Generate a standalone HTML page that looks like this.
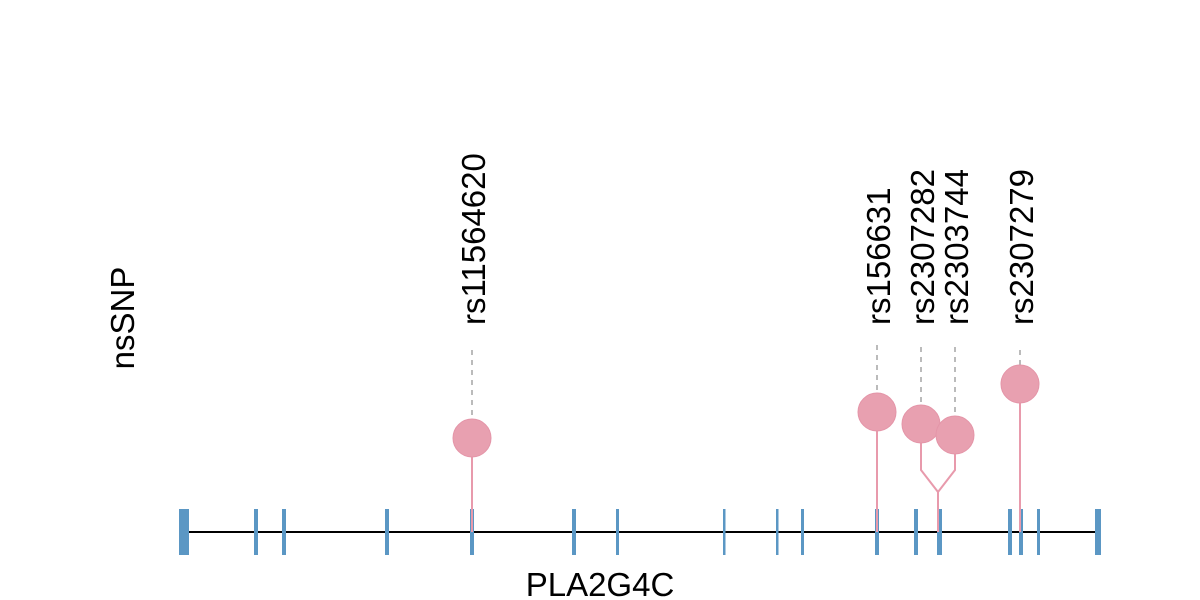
<!DOCTYPE html>
<html><head><style>body{margin:0;background:#fff}svg{display:block}text{font-family:"Liberation Sans",Arial,sans-serif;fill:#000}</style></head><body>
<svg width="1200" height="600" viewBox="0 0 1200 600">
<line x1="186" y1="532" x2="1098" y2="532" stroke="#000" stroke-width="2"/>
<g fill="#5b97c4">
<rect x="179" y="509" width="10" height="46"/>
<rect x="254" y="509" width="4" height="46"/>
<rect x="282" y="509" width="4" height="46"/>
<rect x="385" y="509" width="4" height="46"/>
<rect x="470" y="509" width="4" height="46"/>
<rect x="572" y="509" width="4" height="46"/>
<rect x="616" y="509" width="3" height="46"/>
<rect x="723" y="509" width="2.5" height="46"/>
<rect x="776" y="509" width="2.5" height="46"/>
<rect x="801" y="509" width="3" height="46"/>
<rect x="875" y="509" width="4" height="46"/>
<rect x="914" y="509" width="4" height="46"/>
<rect x="937" y="509" width="5" height="46"/>
<rect x="1008" y="509" width="4" height="46"/>
<rect x="1019" y="509" width="4" height="46"/>
<rect x="1037" y="509" width="3" height="46"/>
<rect x="1095" y="509" width="6" height="46"/>
</g>
<g stroke="#bbb" stroke-width="2" stroke-dasharray="5,5">
<line x1="472" y1="350" x2="472" y2="420"/>
<line x1="877" y1="345" x2="877" y2="394"/>
<line x1="921" y1="347" x2="921" y2="406"/>
<line x1="955" y1="347" x2="955" y2="417"/>
<line x1="1020" y1="350" x2="1020" y2="366"/>
</g>
<g stroke="#e89aac" stroke-width="2" fill="none">
<line x1="472" y1="438" x2="472" y2="532"/>
<line x1="877" y1="412" x2="877" y2="532"/>
<polyline points="921,424 921,470 938,492 938,532"/>
<polyline points="955,435 955,470 938,492"/>
<line x1="1020" y1="384" x2="1020" y2="532"/>
</g>
<g fill="#e8a0b0" stroke="#e495a8" stroke-width="1">
<circle cx="472" cy="438" r="19"/>
<circle cx="877" cy="412" r="19"/>
<circle cx="921" cy="424" r="19"/>
<circle cx="955" cy="435" r="19"/>
<circle cx="1020" cy="384" r="19"/>
</g>
<g font-size="33">
<text transform="translate(485,325) rotate(-90)">rs11564620</text>
<text transform="translate(890,325) rotate(-90)">rs156631</text>
<text transform="translate(934,325) rotate(-90)">rs2307282</text>
<text transform="translate(968,325) rotate(-90)">rs2303744</text>
<text transform="translate(1033,325) rotate(-90)">rs2307279</text>
<text transform="translate(134,318) rotate(-90)" text-anchor="middle">nsSNP</text>
<text x="600" y="596" text-anchor="middle">PLA2G4C</text>
</g>
</svg>
</body></html>
